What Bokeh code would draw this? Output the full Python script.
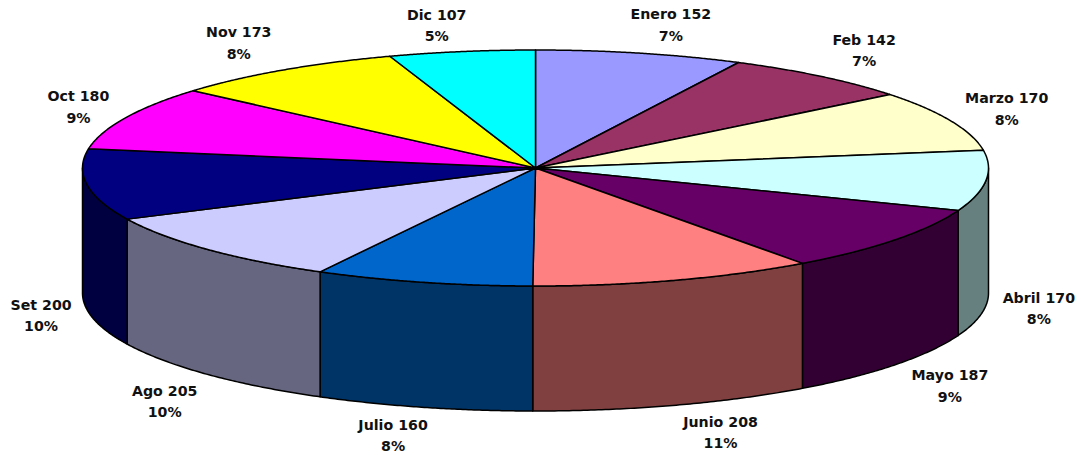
import numpy as np
from bokeh.plotting import figure
from bokeh.models import Range1d, ColumnDataSource
from bokeh.core.properties import value
from bokeh.embed import file_html
from bokeh.resources import INLINE

months = ["Enero", "Feb", "Marzo", "Abril", "Mayo", "Junio", "Julio", "Ago", "Set", "Oct", "Nov", "Dic"]
amounts = [152, 142, 170, 170, 187, 208, 160, 205, 200, 180, 173, 107]
percents = ["7%", "7%", "8%", "8%", "9%", "11%", "8%", "10%", "10%", "9%", "8%", "5%"]
top_colors = ["#9999FF", "#993366", "#FFFFCC", "#CCFFFF", "#660066", "#FF8080",
              "#0066CC", "#CCCCFF", "#000080", "#FF00FF", "#FFFF00", "#00FFFF"]
side_colors = ["#4C4C80", "#4C1933", "#808066", "#668080", "#330033", "#804040",
               "#003366", "#666680", "#000040", "#800080", "#808000", "#008080"]

# layout of the projected disc (pixels)
CX, CY, RX, RY, DEPTH = 535.0, 167.5, 453.0, 118.0, 125.0
label_nudges = [(31, -28), (43, -26), (56, -12), (53, 3), (55, 21), (46, 27),
                (-30, 28), (-43, 27), (-46, 6), (-47, -11), (-44, -27), (-25, -26)]
FONT = "DejaVu Sans"
FONT_SIZE = "14.2px"
LINE_GAP = 10.7

vals = np.array(amounts, dtype=float)
edges = np.concatenate([[0.0], np.cumsum(vals)]) / vals.sum() * 2 * np.pi


def rim(theta):
    return CX + RX * np.sin(theta), CY - RY * np.cos(theta)


p = figure(width=1081, height=455, output_backend="svg", toolbar_location=None,
           x_range=Range1d(0, 1081), y_range=Range1d(455, 0),
           x_axis_type=None, y_axis_type=None, min_border=0,
           outline_line_color=None, background_fill_color="white", border_fill_color="white")
p.grid.visible = False

# visible outer wall: the part of each slice on the front half of the rim
for a, b, col in zip(edges[:-1], edges[1:], side_colors):
    lo, hi = max(a, np.pi / 2), min(b, 3 * np.pi / 2)
    if hi <= lo:
        continue
    x, y = rim(np.linspace(lo, hi, 80))
    p.patch(np.concatenate([x, x[::-1]]), np.concatenate([y, y[::-1] + DEPTH]),
            fill_color=col, line_color="black", line_width=1.5, line_join="round")

# top face
for a, b, col in zip(edges[:-1], edges[1:], top_colors):
    x, y = rim(np.linspace(a, b, 120))
    p.patch(np.concatenate([[CX], x]), np.concatenate([[CY], y]),
            fill_color=col, line_color="black", line_width=1.5, line_join="round")

# labels, placed from each slice's mid-angle
mid = (edges[:-1] + edges[1:]) / 2
lx, ly = rim(mid)
ly = ly + np.where(np.cos(mid) < 0, DEPTH, 0.0)
lx = lx + np.array([n[0] for n in label_nudges])
ly = ly + np.array([n[1] for n in label_nudges])
src = ColumnDataSource(dict(
    x=lx, y1=ly - LINE_GAP, y2=ly + LINE_GAP,
    line1=[f"{m} {v}" for m, v in zip(months, amounts)], line2=percents))
for ycol, tcol in (("y1", "line1"), ("y2", "line2")):
    p.text(x="x", y=ycol, text=tcol, source=src, text_align="center", text_baseline="middle",
           text_font=value(FONT), text_font_style="bold", text_font_size=FONT_SIZE, text_color="#111111")

open("out.html", "w").write(file_html(p, INLINE))
